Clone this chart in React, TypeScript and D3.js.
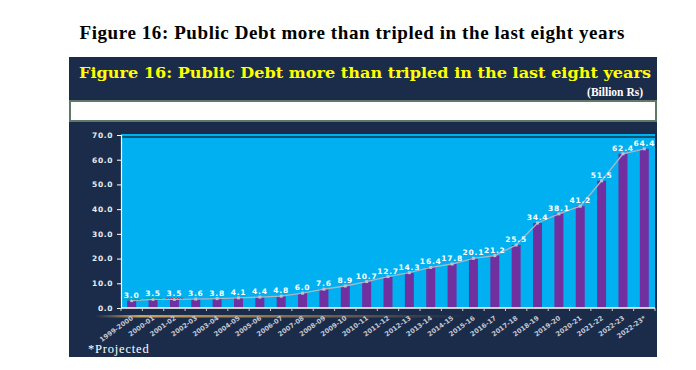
import React, { useRef, useEffect } from "react";
import * as d3 from "d3";

// dati (miliardi di Rs)
const years = [
  "1999-2000", "2000-01", "2001-02", "2002-03", "2003-04", "2004-05", "2005-06",
  "2006-07", "2007-08", "2008-09", "2009-10", "2010-11", "2011-12", "2012-13",
  "2013-14", "2014-15", "2015-16", "2016-17", "2017-18", "2018-19", "2019-20",
  "2020-21", "2021-22", "2022-23", "2022-23*",
];
const debt = [
  3.0, 3.5, 3.5, 3.6, 3.8, 4.1, 4.4, 4.8, 6.0, 7.6, 8.9, 10.7, 12.7, 14.3,
  16.4, 17.8, 20.1, 21.2, 25.5, 34.4, 38.1, 41.2, 51.5, 62.4, 64.4,
];
const yTicks = [0, 10, 20, 30, 40, 50, 60, 70];

const W = 696;
const H = 370;

export default function App() {
  const svgRef = useRef<SVGSVGElement | null>(null);

  useEffect(() => {
    const svg = d3.select(svgRef.current);
    svg.selectAll("*").remove();

    const defs = svg.append("defs");
    const glow = defs.append("linearGradient").attr("id", "glow");
    glow.append("stop").attr("offset", "0%").attr("stop-color", "#d8a84a").attr("stop-opacity", 0);
    glow.append("stop").attr("offset", "12%").attr("stop-color", "#e0b060").attr("stop-opacity", 0.9);
    glow.append("stop").attr("offset", "55%").attr("stop-color", "#c89850").attr("stop-opacity", 0.6);
    glow.append("stop").attr("offset", "100%").attr("stop-color", "#c89850").attr("stop-opacity", 0);

    // titolo esterno
    svg.append("text")
      .attr("x", 352).attr("y", 39)
      .attr("text-anchor", "middle")
      .attr("textLength", 545)
      .style("font-family", "'Liberation Serif', serif")
      .style("font-weight", "bold")
      .style("font-size", "19px")
      .style("fill", "#000")
      .text("Figure 16: Public Debt more than tripled in the last eight years");

    // pannello scuro
    svg.append("rect")
      .attr("x", 69).attr("y", 57).attr("width", 588).attr("height", 300)
      .attr("fill", "#1b2c4b");

    svg.append("text")
      .attr("x", 365).attr("y", 78)
      .attr("text-anchor", "middle")
      .attr("textLength", 572)
      .attr("lengthAdjust", "spacingAndGlyphs")
      .style("font-family", "'DejaVu Serif', serif")
      .style("font-weight", "bold")
      .style("font-size", "15px")
      .style("fill", "#ffff00")
      .text("Figure 16: Public Debt more than tripled in the last eight years");

    svg.append("text")
      .attr("x", 643).attr("y", 96)
      .attr("text-anchor", "end")
      .style("font-family", "'Liberation Serif', serif")
      .style("font-weight", "bold")
      .style("font-size", "11.5px")
      .style("fill", "#ffffff")
      .text("(Billion Rs)");

    // barra bianca
    svg.append("rect")
      .attr("x", 70).attr("y", 101).attr("width", 586).attr("height", 20)
      .attr("fill", "#ffffff")
      .attr("stroke", "#5f7868")
      .attr("stroke-width", 2);

    const margin = { top: 135, right: 41, bottom: 62, left: 121 };
    const innerW = W - margin.left - margin.right;
    const innerH = H - margin.top - margin.bottom;

    const x = d3.scaleBand<string>().domain(years).range([margin.left, margin.left + innerW]).padding(0);
    const y = d3.scaleLinear().domain([0, 70]).range([margin.top + innerH, margin.top]);
    const bw = x.bandwidth() * 0.42;
    const cx = (d: string) => (x(d) as number) + x.bandwidth() / 2;

    // area del grafico
    svg.append("rect")
      .attr("x", margin.left).attr("y", y(70) - 1)
      .attr("width", innerW).attr("height", y(0) - y(70) + 1)
      .attr("fill", "#00b0f0");
    svg.append("line")
      .attr("x1", margin.left).attr("x2", margin.left + innerW)
      .attr("y1", y(70) + 2).attr("y2", y(70) + 2)
      .attr("stroke", "#000").attr("stroke-width", 1.2);

    // barre
    svg.append("g").selectAll("rect")
      .data(debt)
      .join("rect")
        .attr("x", (d, i) => cx(years[i]) - bw / 2)
        .attr("y", d => y(d))
        .attr("width", bw)
        .attr("height", d => y(0) - y(d))
        .attr("fill", "#7030a0");

    // linea
    const line = d3.line<number>().x((d, i) => cx(years[i])).y(d => y(d));
    svg.append("path")
      .datum(debt)
      .attr("d", line)
      .attr("fill", "none")
      .attr("stroke", "#a9b7c6")
      .attr("stroke-width", 1.3);
    svg.append("g").selectAll("rect")
      .data(debt)
      .join("rect")
        .attr("x", (d, i) => cx(years[i]) - 1.5)
        .attr("y", d => y(d) - 1.5)
        .attr("width", 3).attr("height", 3)
        .attr("fill", "#b8c4d0");

    // etichette dati
    svg.append("g").selectAll("text")
      .data(debt)
      .join("text")
        .attr("x", (d, i) => cx(years[i]))
        .attr("y", d => y(d) - 3)
        .attr("text-anchor", "middle")
        .style("font-family", "'DejaVu Sans', sans-serif")
        .style("font-weight", "bold")
        .style("font-size", "7.5px")
        .style("letter-spacing", "0.8px")
        .style("fill", "#ffffff")
        .text(d => d.toFixed(1));

    // sottolineature del correttore ortografico
    const squiggle = (x0: number, x1: number, yy: number) => {
      let p = `M${x0},${yy}`;
      for (let xx = x0 + 1.5, k = 0; xx <= x1; xx += 1.5, k++) p += `L${xx},${yy + (k % 2 ? 0 : 1.5)}`;
      return p;
    };
    [[0, "#0a9a3a"], [1, "#0a9a3a"], [2, "#e02020"]].forEach(([i, c]) => {
      const xc = cx(years[i as number]);
      svg.append("path")
        .attr("d", squiggle(xc - 9, xc + 9, y(debt[i as number]) - 2))
        .attr("fill", "none")
        .attr("stroke", c as string)
        .attr("stroke-width", 0.8);
    });

    // bagliore dorato sotto l'asse
    svg.append("rect")
      .attr("x", 95).attr("y", 315).attr("width", 370).attr("height", 2.5)
      .attr("fill", "url(#glow)");

    // assi
    const yAxis = d3.axisLeft(y).tickValues(yTicks).tickFormat(d3.format(".1f")).tickSize(4).tickPadding(4);
    const gy = svg.append("g").attr("transform", `translate(${margin.left},0)`).call(yAxis);
    gy.select(".domain").attr("stroke", "#ffffff").attr("stroke-width", 1.2);
    gy.selectAll(".tick line").attr("stroke", "#ffffff");
    gy.selectAll(".tick text")
      .attr("fill", "#e8ecf2")
      .style("font-family", "'DejaVu Sans', sans-serif")
      .style("font-weight", "bold")
      .style("font-size", "7.5px")
      .style("letter-spacing", "0.6px");

    const gx = svg.append("g").attr("transform", `translate(0,${y(0)})`);
    gx.append("line")
      .attr("x1", margin.left).attr("x2", margin.left + innerW)
      .attr("stroke", "#ffffff").attr("stroke-width", 1.5);
    gx.selectAll("line.tk")
      .data(d3.range(years.length + 1))
      .join("line")
        .attr("class", "tk")
        .attr("x1", i => margin.left + i * x.step())
        .attr("x2", i => margin.left + i * x.step())
        .attr("y1", 0).attr("y2", 3)
        .attr("stroke", "#c8ccd4");
    gx.selectAll("text")
      .data(years)
      .join("text")
        .attr("transform", d => `translate(${cx(d) + 2},${11}) rotate(-36)`)
        .attr("text-anchor", "end")
        .style("font-family", "'DejaVu Sans', sans-serif")
        .style("font-weight", "bold")
        .style("font-size", "6.6px")
        .style("fill", "#c4c8d2")
        .text(d => d);

    svg.append("text")
      .attr("x", 88).attr("y", 353)
      .style("font-family", "'Liberation Serif', serif")
      .style("font-size", "12.5px")
      .style("letter-spacing", "0.8px")
      .style("fill", "#ffffff")
      .text("*Projected");
  }, []);

  return (
    <svg
      ref={svgRef}
      width={W}
      height={H}
      style={{ position: "absolute", left: 0, top: 0, background: "#fff" }}
    />
  );
}
